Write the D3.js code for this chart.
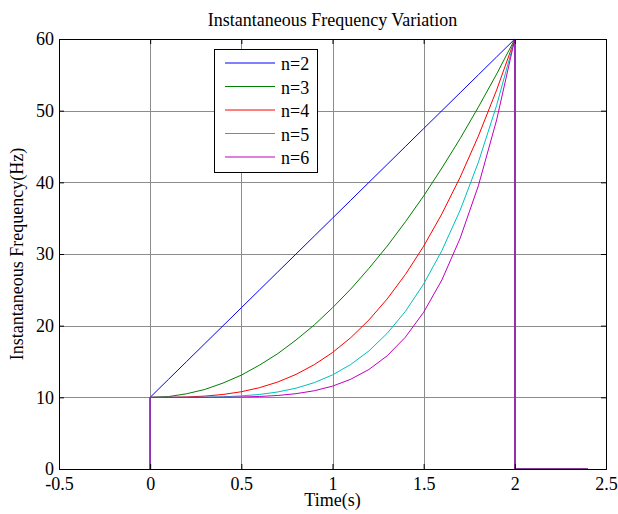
<!DOCTYPE html>
<html><head><meta charset="utf-8">
<script src="https://cdn.jsdelivr.net/npm/d3@7"></script>
<style>body{margin:0;background:#fff}svg{display:block}svg text{font-family:"Liberation Serif","Times New Roman",serif !important;fill:#000}</style>
</head><body>
<script>
const title = "Instantaneous Frequency Variation";
const xLabel = "Time(s)";
const yLabel = "Instantaneous Frequency(Hz)";
const xTicks = [-0.5, 0, 0.5, 1, 1.5, 2, 2.5];
const yTicks = [0, 10, 20, 30, 40, 50, 60];
const seriesNames = ["n=2", "n=3", "n=4", "n=5", "n=6"];
const seriesColors = ["#0000ff", "#008000", "#ff0000", "#00bfbf", "#bf00bf"];
// time samples (includes jump at t=0 and drop at t=2)
const time = [0, 0, 0.1, 0.2, 0.3, 0.4, 0.5, 0.6, 0.7, 0.8, 0.9, 1.0, 1.1, 1.2, 1.3, 1.4, 1.5, 1.6, 1.7, 1.8, 1.9, 2.0, 2.0, 2.4];
const n2 = [0, 10, 12.5, 15, 17.5, 20, 22.5, 25, 27.5, 30, 32.5, 35, 37.5, 40, 42.5, 45, 47.5, 50, 52.5, 55, 57.5, 60, 0, 0];
const n3 = [0, 10, 10.1, 10.5, 11.1, 12, 13.1, 14.5, 16.1, 18, 20.1, 22.5, 25.1, 28, 31.1, 34.5, 38.1, 42, 46.1, 50.5, 55.1, 60, 0, 0];
const n4 = [0, 10, 10, 10.05, 10.17, 10.4, 10.78, 11.35, 12.14, 13.2, 14.56, 16.25, 18.32, 20.8, 23.73, 27.15, 31.09, 35.6, 40.7, 46.45, 52.87, 60, 0, 0];
const n5 = [0, 10, 10, 10, 10.03, 10.08, 10.2, 10.4, 10.75, 11.28, 12.05, 13.13, 14.58, 16.48, 18.93, 22.0, 25.82, 30.48, 36.1, 42.8, 50.73, 60, 0, 0];
const n6 = [0, 10, 10, 10, 10, 10.02, 10.05, 10.12, 10.26, 10.51, 10.92, 11.56, 12.52, 13.89, 15.8, 18.4, 21.87, 26.38, 32.19, 39.52, 48.69, 60, 0, 0];
const seriesValues = [n2, n3, n4, n5, n6];

const W = 618, H = 514;
const FONT = '"Liberation Serif", "Times New Roman", serif';
const m = {left: 59, right: 12, top: 39, bottom: 45};
const svg = d3.select("body").append("svg").attr("width", W).attr("height", H)
  .style("font-family", FONT);
const x = d3.scaleLinear().domain([-0.5, 2.5]).range([m.left, W - m.right]);
const y = d3.scaleLinear().domain([0, 60]).range([H - m.bottom, m.top]);

// grid
const g = svg.append("g");
g.selectAll(".gx").data(xTicks.slice(1, -1)).join("line")
  .attr("x1", d => Math.round(x(d)) + 0.5).attr("x2", d => Math.round(x(d)) + 0.5)
  .attr("y1", y(0)).attr("y2", y(60)).attr("stroke", "#8c8c8c").attr("stroke-width", 1);
g.selectAll(".gy").data(yTicks.slice(1, -1)).join("line")
  .attr("y1", d => Math.round(y(d)) + 0.5).attr("y2", d => Math.round(y(d)) + 0.5)
  .attr("x1", x(-0.5)).attr("x2", x(2.5)).attr("stroke", "#8c8c8c").attr("stroke-width", 1);

// clip
svg.append("clipPath").attr("id", "clip").append("rect")
  .attr("x", x(-0.5)).attr("y", y(60) - 2).attr("width", x(2.5) - x(-0.5)).attr("height", y(0) - y(60) + 2);

const line = d3.line().x((d, i) => x(time[i])).y(d => y(d));
svg.append("g").attr("clip-path", "url(#clip)").selectAll("path").data(seriesValues).join("path")
  .attr("d", d => line(d)).attr("fill", "none")
  .attr("stroke", (d, i) => seriesColors[i]).attr("stroke-width", 1);

// axes
const tickLen = 5;
const fmt = d => String(d);
const axB = svg.append("g").attr("transform", `translate(0,${y(0)})`)
  .call(d3.axisBottom(x).tickValues(xTicks).tickSize(-tickLen).tickPadding(8).tickFormat(fmt));
const axT = svg.append("g").attr("transform", `translate(0,${y(60)})`)
  .call(d3.axisTop(x).tickValues(xTicks).tickSize(-tickLen).tickFormat(""));
const axL = svg.append("g").attr("transform", `translate(${x(-0.5)},0)`)
  .call(d3.axisLeft(y).tickValues(yTicks).tickSize(-tickLen).tickPadding(5).tickFormat(fmt));
const axR = svg.append("g").attr("transform", `translate(${x(2.5)},0)`)
  .call(d3.axisRight(y).tickValues(yTicks).tickSize(-tickLen).tickFormat(""));
[axB, axT, axL, axR].forEach(a => {
  a.attr("font-family", null).attr("font-size", null);
  a.select(".domain").attr("stroke", "#000").attr("stroke-width", 1);
  a.selectAll(".tick line").attr("stroke", "#000");
  a.selectAll("text").style("font-family", FONT).style("font-size", "18px").attr("fill", "#000");
});

// titles
svg.append("text").attr("x", (x(-0.5) + x(2.5)) / 2).attr("y", 26).attr("text-anchor", "middle")
  .style("font-family", FONT).style("font-size", "18px").text(title);
svg.append("text").attr("x", (x(-0.5) + x(2.5)) / 2).attr("y", 506).attr("text-anchor", "middle")
  .style("font-family", FONT).style("font-size", "18px").text(xLabel);
svg.append("text").attr("transform", `translate(23,${(y(0) + y(60)) / 2}) rotate(-90)`)
  .attr("text-anchor", "middle").style("font-family", FONT).style("font-size", "18px").text(yLabel);

// legend
const lg = svg.append("g");
lg.append("rect").attr("x", 214.5).attr("y", 49.5).attr("width", 103).attr("height", 123)
  .attr("fill", "#fff").attr("stroke", "#000").attr("stroke-width", 1);
seriesNames.forEach((name, i) => {
  const yy = 63 + i * 23.5;
  lg.append("line").attr("x1", 225).attr("x2", 275).attr("y1", yy).attr("y2", yy)
    .attr("stroke", seriesColors[i]).attr("stroke-width", 1);
  lg.append("text").attr("x", 281).attr("y", yy + 7).style("font-family", FONT).style("font-size", "18px").text(name);
});
</script>
</body></html>
